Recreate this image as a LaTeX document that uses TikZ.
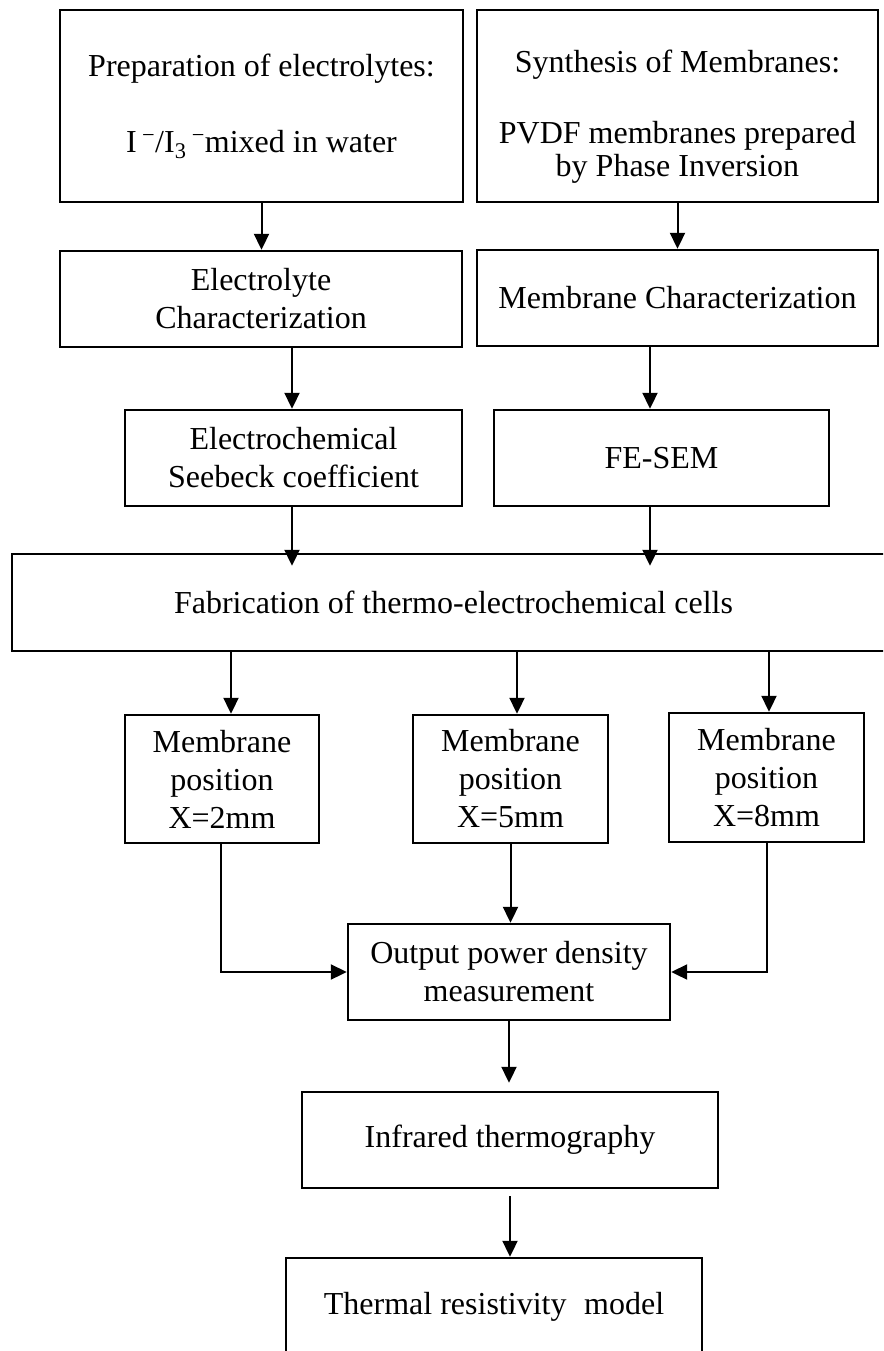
\documentclass[tikz,border=0pt]{standalone}
\usepackage{fontspec}
\setmainfont{Liberation Serif}
\usetikzlibrary{arrows.meta,calc}
\begin{document}
\begin{tikzpicture}[x=1pt,y=-1pt,
  box/.style={draw, line width=2.4pt, inner sep=0pt, align=center, font=\fontsize{32}{38}\selectfont},
  arr/.style={line width=2pt, -{Triangle[length=16pt,width=15pt]}},
  ln/.style={line width=2pt}]
\useasboundingbox (0,0) rectangle (883,1351);
\clip (0,0) rectangle (883,1351);
\fill[white] (0,0) rectangle (883,1351);

% boxes
\node[box, minimum width=403pt, minimum height=192pt] (prep) at (261.5,106)
  {Preparation of electrolytes:\\[38pt] I\,\textsuperscript{−}/I\textsubscript{3}\,\textsuperscript{−}mixed in water};
\node[box, minimum width=401pt, minimum height=192pt] (synth) at (677.5,106)
  {\rule{0pt}{44pt}Synthesis of Membranes:\\[33pt] PVDF membranes prepared\\[-5pt] by Phase Inversion};
\node[box, minimum width=402pt, minimum height=96pt] (echar) at (261,299)
  {Electrolyte\\ Characterization};
\node[box, minimum width=401pt, minimum height=96pt] (mchar) at (677.5,298)
  {Membrane Characterization};
\node[box, minimum width=337pt, minimum height=96pt] (seebeck) at (293.5,458)
  {Electrochemical\\ Seebeck coefficient};
\node[box, minimum width=335pt, minimum height=96pt] (fesem) at (661.5,458)
  {FE-SEM};
\node[box, minimum width=883pt, minimum height=97pt] (fab) at (453.5,602.5)
  {Fabrication of thermo-electrochemical cells};
\node[box, minimum width=194pt, minimum height=128pt] (mA) at (222,779)
  {Membrane\\ position\\ X=2mm};
\node[box, minimum width=195pt, minimum height=128pt] (mB) at (510.5,779)
  {Membrane\\ position\\ X=5mm};
\node[box, minimum width=195pt, minimum height=129pt] (mC) at (766.5,777.5)
  {Membrane\\ position\\ X=8mm};
\node[box, minimum width=322pt, minimum height=96pt] (out) at (509,972)
  {Output power density\\ measurement};
\node[box, minimum width=416pt, minimum height=96pt] (ir) at (510,1140)
  {Infrared thermography};
\node[box, minimum width=416pt, minimum height=98pt] (trm) at (494,1307)
  {Thermal resistivity\hspace{0.3em} model};

% helper x positions
\coordinate (x292) at (292,0);
\coordinate (x650) at (650,0);
\coordinate (xa) at (231,0);
\coordinate (xb) at (517,0);
\coordinate (xc) at (769,0);
\coordinate (xl) at (221,0);

% connectors
\draw[arr] (prep.south) -- (prep.south |- echar.north);
\draw[arr] (synth.south) -- (synth.south |- mchar.north);
\draw[arr] (echar.south -| x292) -- (seebeck.north -| x292);
\draw[arr] (mchar.south -| x650) -- (fesem.north -| x650);
\draw[arr, shorten >=-13pt] (seebeck.south -| x292) -- (fab.north -| x292);
\draw[arr, shorten >=-13pt] (fesem.south -| x650) -- (fab.north -| x650);
\draw[arr] (fab.south -| xa) -- (mA.north -| xa);
\draw[arr] (fab.south -| xb) -- (mB.north -| xb);
\draw[arr] (fab.south -| xc) -- (mC.north -| xc);
\draw[arr] (mA.south -| xl) |- (out.west);
\draw[arr] (mB.south) -- (mB.south |- out.north);
\draw[arr] (mC.south) |- (out.east);
\draw[arr, shorten >=8pt] (out.south) -- (out.south |- ir.north);
\draw[arr, shorten <=7pt] (ir.south) -- (ir.south |- trm.north);
\end{tikzpicture}
\end{document}
